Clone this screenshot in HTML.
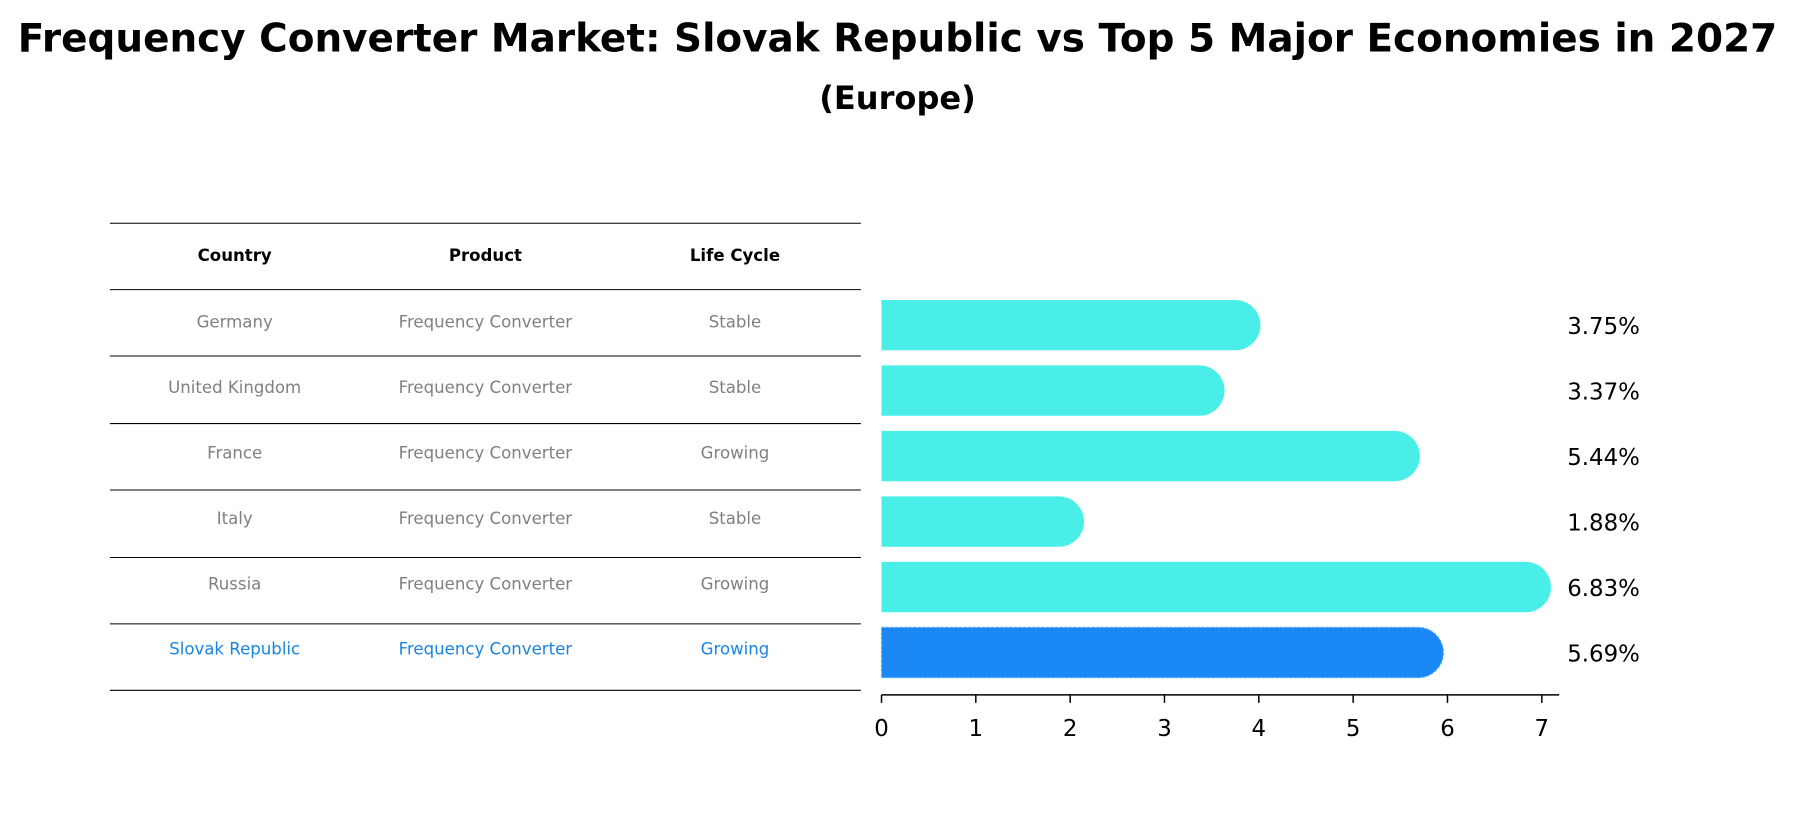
<!DOCTYPE html>
<html><head><meta charset="utf-8"><style>
body{margin:0;background:#fff;font-family:"Liberation Sans","DejaVu Sans",sans-serif;}
#outer{position:relative;width:1795px;height:823px;overflow:hidden;}
#root{position:absolute;left:0;top:0;width:1568px;height:719px;transform:scale(1.1448);transform-origin:0 0;}
.t{position:absolute;white-space:nowrap;}
</style></head><body>
<div id="outer">
<div id="root">
<div class="t" style="left:0;width:1568px;text-align:center;top:14px;font-size:34px;font-weight:bold;font-family:'DejaVu Sans',sans-serif;">Frequency Converter Market: Slovak Republic vs Top 5 Major Economies in 2027</div>
<div class="t" style="left:0;width:1568px;text-align:center;top:69px;font-size:28px;font-weight:bold;font-family:'DejaVu Sans',sans-serif;">(Europe)</div>
<svg id="svg" width="1568" height="719" style="position:absolute;left:0;top:0"></svg>
</div></div>
<script>
const countries=["Germany","United Kingdom","France","Italy","Russia","Slovak Republic"];
const products=["Frequency Converter","Frequency Converter","Frequency Converter","Frequency Converter","Frequency Converter","Frequency Converter"];
const lifeCycles=["Stable","Stable","Growing","Stable","Growing","Growing"];
const values=[3.75,3.37,5.44,1.88,6.83,5.69];
const valueLabels=["3.75%","3.37%","5.44%","1.88%","6.83%","5.69%"];
const ticks=[0,1,2,3,4,5,6,7];
const NS="http://www.w3.org/2000/svg";
const svg=document.getElementById('svg');
const x0=770,ppu=82.4;
const xs=v=>x0+v*ppu;
const rowY=i=>284+i*57.2;
function mk(tag,attrs,txt){const e=document.createElementNS(NS,tag);for(const k in attrs)e.setAttribute(k,attrs[k]);if(txt!==undefined)e.textContent=txt;svg.appendChild(e);return e;}
const lineYs=[195,253,311,370,428,487,545,603];
lineYs.forEach((y,i)=>{const l=mk('line',{x1:96,x2:752,y1:y,y2:y,stroke:'#000','stroke-width':0.9});

});
const colX=[205,424,642];
["Country","Product","Life Cycle"].forEach((h,j)=>{const t=mk('text',{x:colX[j],y:224,'text-anchor':'middle','dominant-baseline':'middle','font-size':14.5,'font-weight':'bold','font-family':'DejaVu Sans,sans-serif'},h);

});
countries.forEach((c,i)=>{
 const y=rowY(i)-2;const last=i===countries.length-1;const col=last?'#1a85e0':'#808080';
 [c,products[i],lifeCycles[i]].forEach((s,j)=>{const t=mk('text',{x:colX[j],y:y,'text-anchor':'middle','dominant-baseline':'middle','font-size':14.5,fill:col,'font-family':'DejaVu Sans,sans-serif'},s);
 
 });
 const h=44,cy=rowY(i),xe=xs(values[i]);
 const fill=last?'#1a88f5':'#4aeee8';
 const p=mk('path',{d:`M${x0},${cy-h/2} L${xe},${cy-h/2} A${h/2},${h/2} 0 0 1 ${xe},${cy+h/2} L${x0},${cy+h/2} Z`,fill:fill,stroke:last?'#5aa8f8':'none','stroke-dasharray':last?'2,2':'none'});
 
 
 const t=mk('text',{x:1369,y:cy+2,'dominant-baseline':'middle','font-size':20,'font-family':'DejaVu Sans,sans-serif'},valueLabels[i]);
 
 
});
const ax=mk('line',{x1:x0,x2:1362,y1:607,y2:607,stroke:'#000','stroke-width':1.3});


ticks.forEach(v=>{const l=mk('line',{x1:xs(v),x2:xs(v),y1:607,y2:614,stroke:'#000','stroke-width':1.3});


const t=mk('text',{x:xs(v),y:643,'text-anchor':'middle','font-size':20,'font-family':'DejaVu Sans,sans-serif'},String(v));

});
</script>
</body></html>
